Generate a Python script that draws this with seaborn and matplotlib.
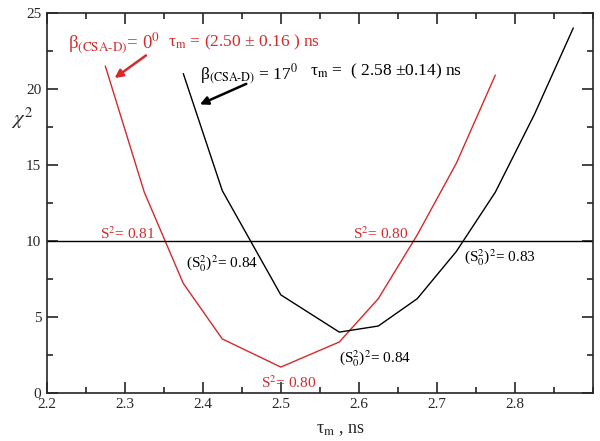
import matplotlib
matplotlib.use("Agg")
import matplotlib.pyplot as plt
import seaborn as sns
import pandas as pd
from matplotlib.ticker import MultipleLocator

sns.set_theme(style="ticks")
plt.rcParams['font.family'] = ['Liberation Serif', 'DejaVu Serif']
plt.rcParams['mathtext.fontset'] = 'stix'

# data
red_x = [2.275, 2.325, 2.375, 2.425, 2.5, 2.575, 2.625, 2.675, 2.725, 2.775]
red_y = [21.5, 13.2, 7.2, 3.55, 1.7, 3.35, 6.2, 10.4, 15.1, 20.9]
black_x = [2.375, 2.425, 2.5, 2.575, 2.625, 2.675, 2.725, 2.775, 2.825, 2.875]
black_y = [21.0, 13.3, 6.45, 4.0, 4.4, 6.2, 9.3, 13.2, 18.3, 24.0]
threshold = 10
xtick_labels = ['2.2', '2.3', '2.4', '2.5', '2.6', '2.7', '2.8']

RED = '#d42a2a'
fig = plt.figure(figsize=(6, 4.41), dpi=100)
ax = fig.add_axes([0.078, 0.109, 0.91, 0.862])

dr = pd.DataFrame({'x': red_x, 'y': red_y})
db = pd.DataFrame({'x': black_x, 'y': black_y})
sns.lineplot(data=dr, x='x', y='y', ax=ax, color=RED, lw=1.0, sort=False)
sns.lineplot(data=db, x='x', y='y', ax=ax, color='black', lw=1.0, sort=False)
ax.axhline(threshold, color='black', lw=1.0)

ax.set_xlim(2.2, 2.9)
ax.set_ylim(0, 25)
ax.yaxis.set_major_locator(MultipleLocator(5))
ax.yaxis.set_minor_locator(MultipleLocator(2.5))
ax.set_xticks([float(t) for t in xtick_labels])
ax.set_xticklabels(xtick_labels)
ax.set_xticks([2.25, 2.35, 2.45, 2.55, 2.65, 2.75, 2.85, 2.9], minor=True)
ax.tick_params(which='both', direction='in', top=True, right=True, labelsize=11, width=1.2)
ax.tick_params(which='major', length=8)
ax.tick_params(which='minor', length=4)
ax.tick_params(axis='x', pad=4)
ax.tick_params(axis='y', pad=4)
for s in ax.spines.values():
    s.set_linewidth(1.2)
ax.set_xlabel('τ$_{\\rm m}$ , ns', fontsize=13)
ax.xaxis.set_label_coords(0.537, -0.075)
ax.set_ylabel(r'$\chi^2$', fontsize=15, rotation=0)
ax.yaxis.set_label_coords(-0.045, 0.69)

# annotations
ax.text(2.227, 22.7, 'β$_{\\rm (CSA\\text{-}D)}$= 0$^0$', color=RED, fontsize=13.5)
ax.text(2.355, 22.8, 'τ$_{\\rm m}$ = (2.50 ± 0.16 ) ns', color=RED, fontsize=12.5)
ax.text(2.396, 20.6, 'β$_{\\rm (CSA\\text{-}D)}$ = 17$^0$', color='black', fontsize=12.5)
ax.text(2.537, 20.9, 'τ$_{\\rm m}$ =  ( 2.58 ±0.14) ns', color='black', fontsize=12.5)
ax.annotate('', xy=(2.284, 20.6), xytext=(2.33, 22.3),
            arrowprops=dict(arrowstyle='-|>', color=RED, lw=1.8, mutation_scale=12))
ax.annotate('', xy=(2.393, 18.9), xytext=(2.459, 20.4),
            arrowprops=dict(arrowstyle='-|>', color='black', lw=1.8, mutation_scale=12))

ax.text(2.268, 10.15, r'S$^2$= 0.81', color=RED, fontsize=11)
ax.text(2.592, 10.15, r'S$^2$= 0.80', color=RED, fontsize=11)
ax.text(2.475, 0.35, r'S$^2$= 0.80', color=RED, fontsize=11)
ax.text(2.378, 8.2, r'(S$_0^2$)$^2$= 0.84', color='black', fontsize=11)
ax.text(2.735, 8.6, r'(S$_0^2$)$^2$= 0.83', color='black', fontsize=11)
ax.text(2.575, 2.0, r'(S$_0^2$)$^2$= 0.84', color='black', fontsize=11)

fig.savefig('out.png', dpi=100)
